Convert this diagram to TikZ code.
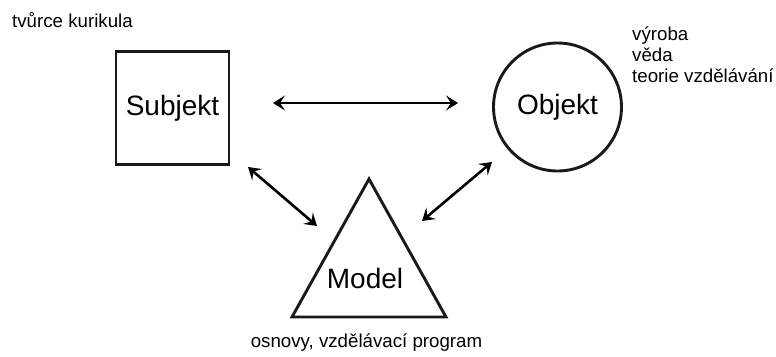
\documentclass[tikz,border=0pt]{standalone}
\usepackage{fontspec}
\setmainfont{Liberation Sans}
\usetikzlibrary{arrows.meta}
\begin{document}
\begin{tikzpicture}[x=1pt,y=-1pt,
  shapeline/.style={draw=black!90,line width=2.9pt},
  big/.style={font=\fontsize{28}{32}\selectfont},
  small/.style={font=\fontsize{18.7}{21}\selectfont,inner sep=0pt},
  link/.style={line width=2.6pt,{Stealth[length=12pt,width=15pt,inset=5pt]}-{Stealth[length=12pt,width=15pt,inset=5pt]}}]
\useasboundingbox (0,0) rectangle (776,356);
% shapes
\node[shapeline,minimum size=113pt,inner sep=0pt,big] (subj) at (172.5,108) {Subjekt};
\node[shapeline,circle,minimum size=128pt,inner sep=0pt,big] (obj) at (557.5,107) {Objekt};
\coordinate (tA) at (369,179);
\coordinate (tL) at (292,317);
\coordinate (tR) at (446,317);
\draw[shapeline,line join=miter] (tA) -- (tR) -- (tL) -- cycle;
\node[big,inner sep=0pt] (model) at (365,278) {Model};
% labels
\node[small,anchor=west] (lsubj) at (12,20) {tvůrce kurikula};
\node[small,anchor=north west,align=left] (lobj) at (632,27) {výroba\\věda\\teorie vzdělávání};
\node[small] (lmodel) at (366.5,343) {osnovy, vzdělávací program};
% connectors
\coordinate (h1) at (273,103);
\coordinate (h2) at (458,103);
\coordinate (l1) at (248,167);
\coordinate (l2) at (317,226);
\coordinate (r1) at (492,162);
\coordinate (r2) at (422,221);
\draw[link] (h1) -- (h2);
\draw[link] (l1) -- (l2);
\draw[link] (r1) -- (r2);
\end{tikzpicture}
\end{document}
